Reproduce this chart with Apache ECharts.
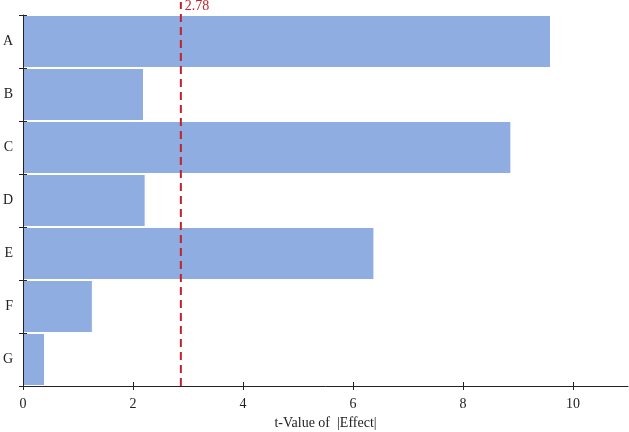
<!DOCTYPE html>
<html><head><meta charset="utf-8">
<script src="https://cdn.jsdelivr.net/npm/echarts@6/dist/echarts.min.js"></script>
<style>html,body{margin:0;padding:0;background:#fff}#c{width:629px;height:432px}</style>
</head><body><div id="c"></div>
<script>
const categories = ['A','B','C','D','E','F','G'];
const tValues = [9.6, 2.2, 8.88, 2.23, 6.39, 1.27, 0.4];
const criticalPos = 2.87;
const criticalLabel = '2.78';
const xTicks = [0, 2, 4, 6, 8, 10];
const FONT = '"Liberation Serif", "DejaVu Serif", serif';
const chart = echarts.init(document.getElementById('c'));
const gridBase = {left: 23, right: 1, bottom: 46, outerBoundsMode: 'none', containLabel: false};
chart.setOption({
  animation: false,
  grid: [
    Object.assign({top: 15}, gridBase),
    Object.assign({top: 2}, gridBase)
  ],
  xAxis: [
    {type: 'value', gridIndex: 0, min: 0, max: 11, interval: 2, z: 10,
     name: 't-Value of  |Effect|', nameLocation: 'middle', nameGap: 30,
     nameTextStyle: {fontFamily: FONT, fontSize: 14, color: '#222'},
     axisLine: {show: true, lineStyle: {color: '#222', width: 1}},
     axisTick: {show: true, length: 4, lineStyle: {color: '#222'}, customValues: xTicks},
     axisLabel: {fontFamily: FONT, fontSize: 14, color: '#222', margin: 11, customValues: xTicks},
     splitLine: {show: false}},
    {type: 'value', gridIndex: 0, min: 0, max: 11, interval: 2, position: 'bottom', z: 10,
     axisLine: {show: false},
     axisTick: {show: true, inside: true, length: 4, lineStyle: {color: '#222'}, customValues: xTicks},
     axisLabel: {show: false}, splitLine: {show: false}},
    {type: 'value', gridIndex: 1, min: 0, max: 11, show: false}
  ],
  yAxis: [
    {type: 'category', gridIndex: 0, data: categories, inverse: true, z: 10,
     axisLine: {show: true, lineStyle: {color: '#222', width: 1}},
     axisTick: {show: true, length: 4, lineStyle: {color: '#222'}},
     axisLabel: {fontFamily: FONT, fontSize: 14, color: '#222', margin: 10}},
    {type: 'category', gridIndex: 0, data: categories, inverse: true, position: 'left', z: 10,
     axisLine: {show: false},
     axisTick: {show: true, inside: true, length: 4, lineStyle: {color: '#222'}},
     axisLabel: {show: false}},
    {type: 'value', gridIndex: 1, min: 0, max: 1, show: false}
  ],
  series: [
    {type: 'bar', xAxisIndex: 0, yAxisIndex: 0, data: tValues,
     barCategoryGap: 0,
     itemStyle: {color: '#8fade0', borderColor: '#ffffff', borderWidth: 1},
     z: 1},
    {type: 'line', xAxisIndex: 2, yAxisIndex: 2,
     data: [[criticalPos, 0], {value: [criticalPos, 1], label: {show: true}}],
     symbol: 'circle', symbolSize: 0, showSymbol: true,
     lineStyle: {color: '#c0222a', width: 2, type: [8, 5]},
     label: {show: false, position: 'right', distance: 4, offset: [0, 4],
       formatter: () => criticalLabel, color: '#c0222a', fontFamily: FONT, fontSize: 14},
     z: 5}
  ]
});
</script></body></html>
